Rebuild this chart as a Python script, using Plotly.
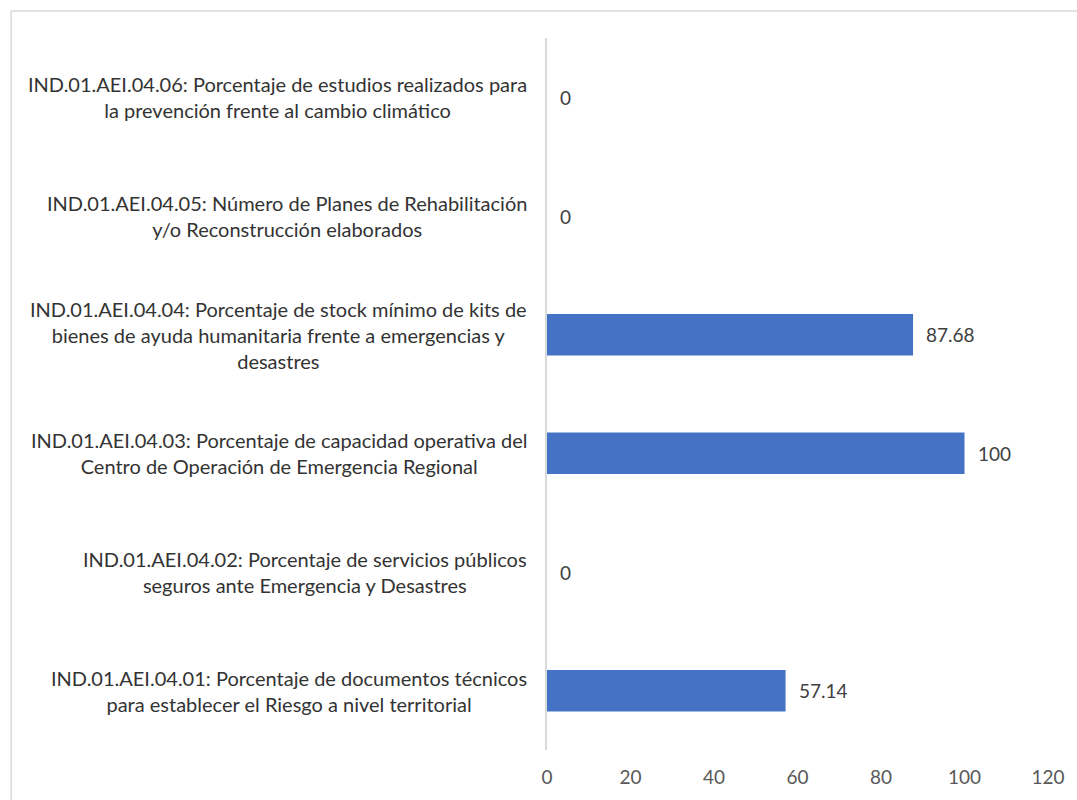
"""Horizontal bar chart: indicadores AEI.04."""

import plotly.graph_objects as go

categories = [
    "IND.01.AEI.04.01: Porcentaje de documentos técnicos<br>para establecer el Riesgo a nivel territorial",
    "IND.01.AEI.04.02: Porcentaje de servicios públicos<br>seguros ante Emergencia y Desastres",
    "IND.01.AEI.04.03: Porcentaje de capacidad operativa del<br>Centro de Operación de Emergencia Regional",
    "IND.01.AEI.04.04: Porcentaje de stock mínimo de kits de<br>bienes de ayuda humanitaria frente a emergencias y<br>desastres",
    "IND.01.AEI.04.05: Número de Planes de Rehabilitación<br>y/o Reconstrucción elaborados",
    "IND.01.AEI.04.06: Porcentaje de estudios realizados para<br>la prevención frente al cambio climático",
]
values = [57.14, 0, 100, 87.68, 0, 0]
value_labels = ["57.14", "0", "100", "87.68", "0", "0"]
x_ticks = [0, 20, 40, 60, 80, 100, 120]

FONT = "Lato"
W, H = 1077, 800
L, R, T, B = 547, 27, 38, 50
pw, ph = W - L - R, H - T - B

fig = go.Figure(
    go.Bar(
        x=values,
        y=categories,
        orientation="h",
        marker=dict(color="#4472C4", line=dict(width=0)),
        hoverinfo="x+y",
    )
)

# category labels, centred lines, block right-aligned to the axis
for cat in categories:
    fig.add_annotation(
        x=0, xref="paper", y=cat, yref="y",
        text=cat, showarrow=False,
        xanchor="right", yanchor="middle", align="center", xshift=-18,
        font=dict(family=FONT, size=20, color="#333333"),
    )

# data labels
for cat, v, lab in zip(categories, values, value_labels):
    fig.add_annotation(
        x=v, y=cat, text=lab, showarrow=False,
        xanchor="left", yanchor="middle", xshift=11,
        font=dict(family=FONT, size=19, color="#404040"),
    )

# outer chart border
fig.add_shape(
    type="rect", xref="paper", yref="paper",
    x0=(9 - L) / pw, x1=(W + 5 - L) / pw,
    y0=-(H + 5 - T - ph) / ph, y1=(H - B - 11) / ph,
    line=dict(color="#D9D9D9", width=1.5), layer="below",
)

fig.update_layout(
    width=W, height=H,
    margin=dict(l=L, r=R, t=T, b=B),
    plot_bgcolor="white", paper_bgcolor="white",
    bargap=0.65, showlegend=False,
    font=dict(family=FONT),
)
fig.update_xaxes(
    range=[0, 120], tickvals=x_ticks, showgrid=False, zeroline=False,
    showline=False, ticks="", ticklabelstandoff=14,
    tickfont=dict(family=FONT, size=19, color="#595959"),
)
fig.update_yaxes(
    range=[-0.5, 5.5], showticklabels=False, showgrid=False, zeroline=False,
    showline=True, linecolor="#D9D9D9", linewidth=1.5, ticks="",
)

fig.write_html(
    "out.html",
    config={"displayModeBar": False},
    post_script="document.body.style.margin='0';",
)
